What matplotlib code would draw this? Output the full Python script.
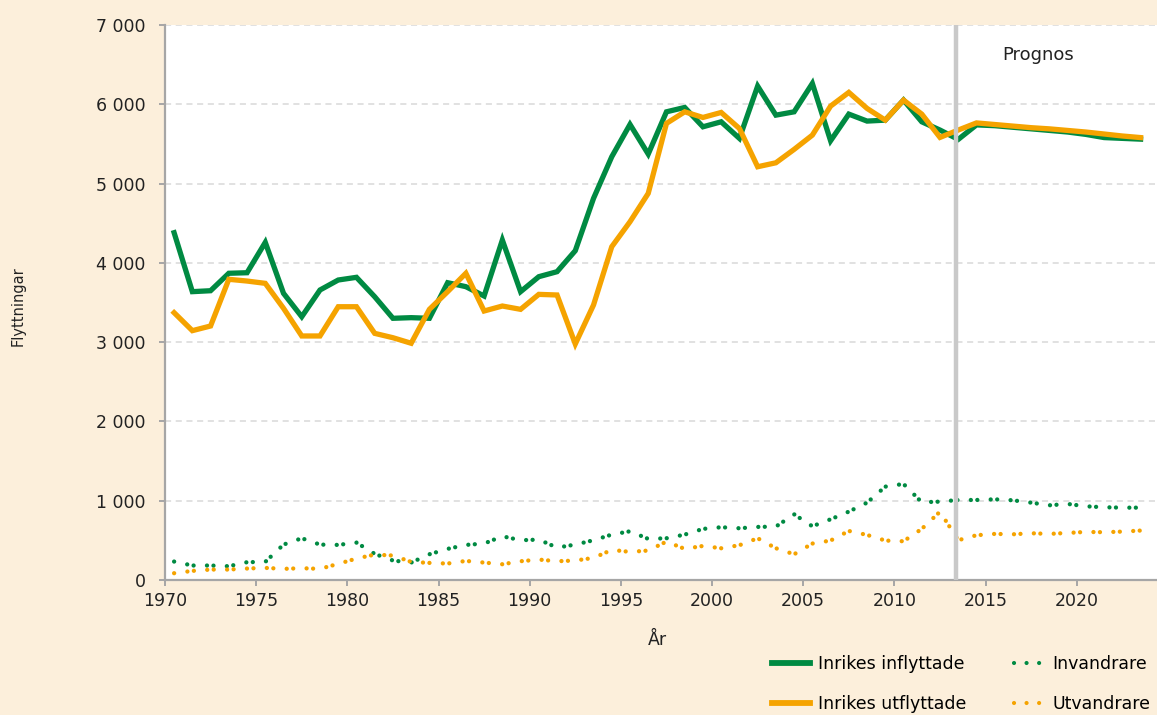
import numpy as np
import matplotlib.pyplot as plt
from matplotlib.lines import Line2D
from matplotlib.ticker import FuncFormatter

plt.rcParams['font.family'] = ['DejaVu Sans']

# data
years = np.arange(1970, 2024)
inflyttade = [4380, 3636, 3648, 3868, 3875, 4258, 3615, 3320, 3657, 3783,
              3817, 3572, 3300, 3308, 3300, 3749, 3699, 3581, 4287, 3636,
              3825, 3888, 4153, 4813, 5338, 5746, 5372, 5905, 5960, 5716,
              5779, 5570, 6229, 5863, 5905, 6263, 5540, 5876, 5788, 5800,
              6053, 5779, 5675, 5557, 5740, 5730, 5710, 5690, 5670, 5650,
              5620, 5580, 5570, 5560]
utflyttade = [3371, 3144, 3203, 3792, 3770, 3741, 3426, 3077, 3077, 3446,
              3446, 3110, 3055, 2985, 3413, 3636, 3868, 3392, 3455, 3413,
              3602, 3594, 2976, 3468, 4203, 4518, 4876, 5759, 5905, 5834,
              5897, 5695, 5212, 5262, 5431, 5611, 5977, 6150, 5948, 5800,
              6053, 5876, 5582, 5675, 5765, 5745, 5725, 5705, 5690, 5670,
              5650, 5625, 5600, 5580]
invandrare = [231, 181, 181, 172, 223, 227, 445, 525, 445, 441,
              470, 328, 244, 218, 323, 391, 441, 458, 550, 500,
              508, 407, 445, 500, 571, 613, 517, 525, 571, 643,
              664, 651, 668, 672, 827, 676, 764, 861, 974, 1176,
              1210, 979, 987, 1008, 1008, 1016, 1004, 974, 941, 958,
              928, 916, 911, 911]
utvandrare = [84, 113, 130, 130, 143, 151, 139, 147, 139, 202,
              269, 319, 307, 227, 214, 206, 239, 218, 197, 235,
              256, 235, 244, 277, 378, 353, 370, 483, 391, 428,
              399, 437, 525, 399, 323, 458, 496, 617, 567, 496,
              487, 643, 860, 500, 563, 580, 575, 588, 580, 592,
              605, 601, 609, 622]
tick_years = [1970, 1975, 1980, 1985, 1990, 1995, 2000, 2005, 2010, 2015, 2020]
prognos_start = 2012.9

green = '#008A42'
orange = '#F5A300'
bg = '#FCEFDB'

fig = plt.figure(figsize=(11.57, 7.15), dpi=100, facecolor=bg)
ax = fig.add_axes([0.1426, 0.189, 0.8574, 0.776])
ax.set_facecolor('white')

l1, = ax.plot(years, inflyttade, color=green, lw=3.8, solid_joinstyle='miter')
l2, = ax.plot(years, utflyttade, color=orange, lw=3.8, solid_joinstyle='miter')
dots = (0, (0.01, 3.1, 0.01, 1.5))
ax.plot(years, invandrare, color=green, lw=3.1, linestyle=dots,
        dash_capstyle='round')
ax.plot(years, utvandrare, color=orange, lw=3.1, linestyle=dots,
        dash_capstyle='round')

ax.axvline(prognos_start, color='#C9C9C9', lw=3.2, zorder=5)
ax.text(2017.4, 6620, 'Prognos', fontsize=13, color='#222222',
        ha='center', va='center')

ax.set_xlim(1969.5, 2023.9)
ax.set_ylim(0, 7000)
ax.set_xticks([y - 0.5 for y in tick_years])
ax.set_xticklabels([str(y) for y in tick_years])
ax.set_yticks(np.arange(0, 7001, 1000))
ax.yaxis.set_major_formatter(FuncFormatter(lambda v, p: f'{int(v):,}'.replace(',', ' ')))

ax.grid(axis='y', color='#D9D9D9', linestyle=(0, (4, 3)), lw=1.1)
ax.set_axisbelow(True)
for s in ['top', 'right']:
    ax.spines[s].set_visible(False)
for s in ['left', 'bottom']:
    ax.spines[s].set_color('#A6A6A6')
    ax.spines[s].set_linewidth(1.6)
ax.tick_params(axis='y', length=4, width=1.4, color='#A6A6A6', pad=10,
               labelsize=12.5, labelcolor='#222222')
ax.tick_params(axis='x', length=4, width=1.4, color='#A6A6A6', pad=5,
               labelsize=12.5, labelcolor='#222222')

fig.text(0.016, 0.572, 'Flyttningar', rotation=90, fontsize=10.5,
         ha='center', va='center', color='#222222',
         family=['Liberation Sans Narrow', 'DejaVu Sans'])
fig.text(0.568, 0.105, 'År', fontsize=12.5, ha='center', va='center',
         color='#222222')

# legend, two columns built separately
solid_h = [Line2D([], [], color=green, lw=4.2),
           Line2D([], [], color=orange, lw=4.2)]
dot_h = [Line2D([], [], color=c, lw=3.0, linestyle=(0, (0.01, 3.0)),
                dash_capstyle='round') for c in (green, orange)]
leg_kw = dict(loc='upper left', frameon=False, fontsize=12.5,
              handletextpad=0.45, labelspacing=1.27, borderaxespad=0, borderpad=0)
leg1 = fig.legend(solid_h, ['Inrikes inflyttade', 'Inrikes utflyttade'],
                  bbox_to_anchor=(0.6672, 0.084), handlelength=2.2, **leg_kw)
fig.legend(dot_h, ['Invandrare', 'Utvandrare'],
           bbox_to_anchor=(0.8765, 0.084), handlelength=1.75, **leg_kw)

fig.savefig('out.png', dpi=100, facecolor=bg)
